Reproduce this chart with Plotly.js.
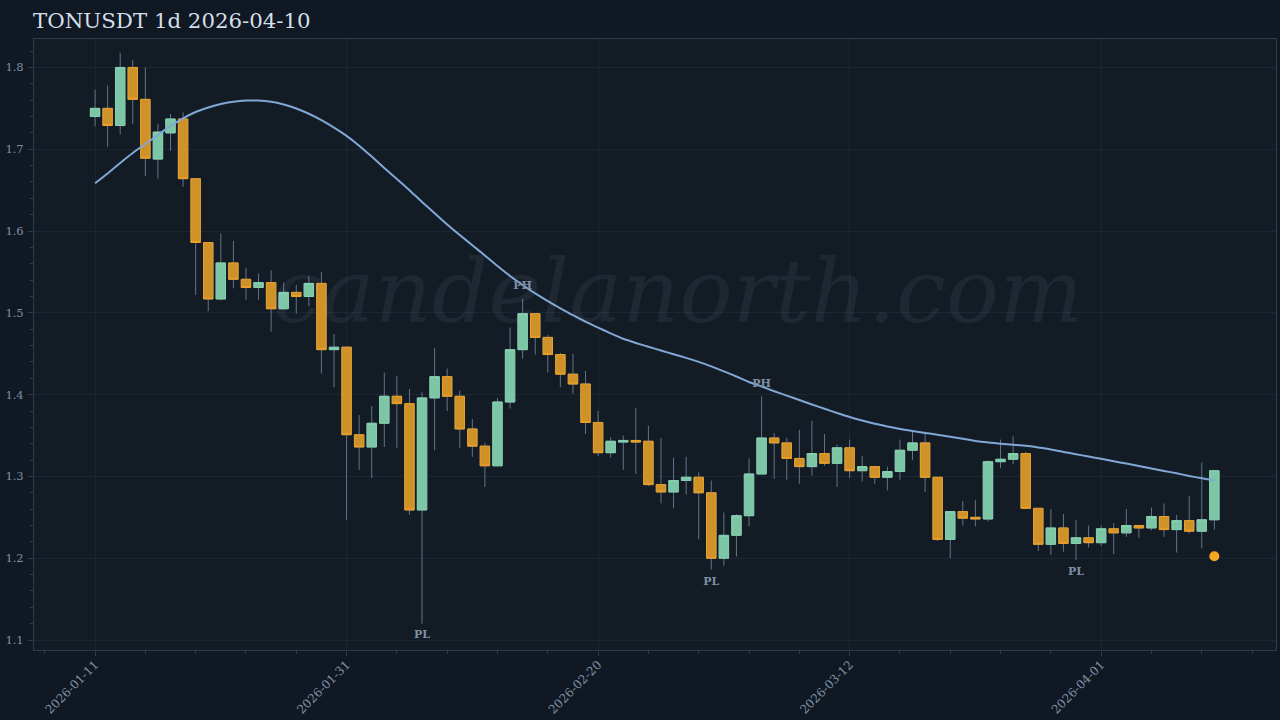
<!DOCTYPE html>
<html>
<head>
<meta charset="utf-8">
<script src="https://cdn.plot.ly/plotly-3.0.1.min.js"></script>
<style>html,body{margin:0;padding:0;background:#0f1823}#c{width:1280px;height:720px}</style>
</head>
<body>
<div id="c"></div>
<script>
var dates = ["2026-01-11","2026-01-12","2026-01-13","2026-01-14","2026-01-15","2026-01-16","2026-01-17","2026-01-18","2026-01-19","2026-01-20","2026-01-21","2026-01-22","2026-01-23","2026-01-24","2026-01-25","2026-01-26","2026-01-27","2026-01-28","2026-01-29","2026-01-30","2026-01-31",
"2026-02-01","2026-02-02","2026-02-03","2026-02-04","2026-02-05","2026-02-06","2026-02-07","2026-02-08","2026-02-09","2026-02-10","2026-02-11","2026-02-12","2026-02-13","2026-02-14","2026-02-15","2026-02-16","2026-02-17","2026-02-18","2026-02-19","2026-02-20","2026-02-21","2026-02-22","2026-02-23","2026-02-24","2026-02-25","2026-02-26","2026-02-27","2026-02-28",
"2026-03-01","2026-03-02","2026-03-03","2026-03-04","2026-03-05","2026-03-06","2026-03-07","2026-03-08","2026-03-09","2026-03-10","2026-03-11","2026-03-12","2026-03-13","2026-03-14","2026-03-15","2026-03-16","2026-03-17","2026-03-18","2026-03-19","2026-03-20","2026-03-21","2026-03-22","2026-03-23","2026-03-24","2026-03-25","2026-03-26","2026-03-27","2026-03-28","2026-03-29","2026-03-30","2026-03-31",
"2026-04-01","2026-04-02","2026-04-03","2026-04-04","2026-04-05","2026-04-06","2026-04-07","2026-04-08","2026-04-09","2026-04-10"];
var opens = [1.740,1.750,1.729,1.800,1.761,1.688,1.720,1.737,1.664,1.586,1.517,1.561,1.541,1.531,1.537,1.505,1.525,1.520,1.536,1.455,1.458,1.351,1.336,1.365,1.398,1.389,1.259,1.396,1.422,1.398,1.358,1.337,1.313,1.391,1.455,1.499,1.470,1.449,1.425,1.413,1.366,1.329,1.342,1.344,1.343,1.290,1.281,1.295,1.299,1.280,1.200,1.228,1.252,1.303,1.347,1.341,1.322,1.312,1.328,1.316,1.335,1.307,1.312,1.299,1.306,1.332,1.341,1.299,1.223,1.257,1.250,1.248,1.318,1.321,1.328,1.261,1.217,1.237,1.218,1.225,1.219,1.236,1.231,1.240,1.237,1.251,1.235,1.246,1.233,1.247];
var highs = [1.773,1.778,1.818,1.809,1.800,1.731,1.743,1.745,1.664,1.586,1.597,1.588,1.555,1.548,1.552,1.537,1.534,1.545,1.550,1.474,1.458,1.375,1.386,1.427,1.423,1.407,1.403,1.457,1.432,1.405,1.370,1.341,1.396,1.482,1.517,1.499,1.473,1.451,1.450,1.429,1.380,1.348,1.350,1.384,1.362,1.347,1.323,1.324,1.305,1.295,1.256,1.254,1.322,1.398,1.353,1.347,1.357,1.368,1.352,1.339,1.345,1.325,1.313,1.312,1.345,1.355,1.355,1.299,1.257,1.270,1.271,1.320,1.345,1.349,1.330,1.261,1.260,1.254,1.247,1.240,1.240,1.243,1.260,1.241,1.262,1.267,1.253,1.276,1.317,1.308];
var lows = [1.728,1.703,1.718,1.731,1.667,1.664,1.698,1.654,1.522,1.502,1.515,1.530,1.516,1.516,1.477,1.504,1.499,1.508,1.426,1.409,1.247,1.308,1.298,1.336,1.335,1.253,1.120,1.332,1.380,1.335,1.324,1.287,1.312,1.383,1.444,1.449,1.427,1.409,1.401,1.352,1.325,1.323,1.308,1.303,1.288,1.267,1.261,1.278,1.223,1.186,1.191,1.202,1.239,1.303,1.297,1.296,1.291,1.301,1.313,1.287,1.298,1.294,1.291,1.283,1.296,1.320,1.281,1.221,1.200,1.240,1.239,1.245,1.310,1.315,1.260,1.209,1.204,1.208,1.198,1.213,1.215,1.205,1.226,1.225,1.234,1.226,1.207,1.230,1.212,1.235];
var closes = [1.750,1.729,1.800,1.761,1.689,1.721,1.737,1.664,1.586,1.517,1.561,1.541,1.531,1.537,1.505,1.525,1.520,1.536,1.455,1.458,1.351,1.336,1.365,1.398,1.389,1.259,1.396,1.422,1.398,1.358,1.337,1.313,1.391,1.455,1.499,1.470,1.449,1.425,1.413,1.366,1.329,1.343,1.344,1.342,1.290,1.281,1.295,1.299,1.280,1.200,1.228,1.252,1.303,1.347,1.341,1.322,1.312,1.328,1.316,1.335,1.307,1.312,1.299,1.306,1.332,1.341,1.299,1.223,1.257,1.249,1.248,1.318,1.321,1.328,1.261,1.217,1.237,1.218,1.225,1.219,1.236,1.231,1.240,1.237,1.251,1.235,1.246,1.233,1.247,1.307];
var trendLine = [1.6584,1.6704,1.6833,1.6955,1.7065,1.7175,1.7285,1.7379,1.7456,1.7511,1.7554,1.7581,1.7595,1.7595,1.7581,1.7548,1.7499,1.7434,1.7355,1.7264,1.7163,1.7044,1.691,1.6771,1.6637,1.65,1.6356,1.6218,1.6081,1.5952,1.5826,1.5702,1.5573,1.5451,1.5341,1.5237,1.5143,1.5056,1.4971,1.4892,1.4819,1.4749,1.4683,1.4632,1.4586,1.454,1.4494,1.4449,1.44,1.4345,1.4284,1.4222,1.4155,1.41,1.4042,1.3988,1.3935,1.388,1.3828,1.3776,1.3727,1.3683,1.3645,1.3611,1.3581,1.3556,1.3532,1.3511,1.3485,1.3461,1.3434,1.3416,1.34,1.3387,1.3375,1.3354,1.333,1.33,1.3271,1.3244,1.3215,1.3185,1.3158,1.3128,1.3096,1.3067,1.3038,1.3006,1.2977,1.2949];
var pivotDates = ["2026-02-06","2026-02-14","2026-03-01","2026-03-05","2026-03-30"];
var pivotPrices = [1.106,1.533,1.171,1.413,1.183];
var pivotLabels = ["PL","PH","PL","PH","PL"];
var lastDate = ["2026-04-10"];
var lastPrice = [1.2024];
var yTicks = [1.1,1.2,1.3,1.4,1.5,1.6,1.7,1.8];

var serif = '"DejaVu Serif", serif';
var tickColor = '#2c3b4d', textColor = '#7f90a4', gridColor = '#1a2732';
var bodyHigh = opens.map(function(o,i){return Math.max(o,closes[i]);});
var bodyLow = opens.map(function(o,i){return Math.min(o,closes[i]);});

var wicks = {type:'candlestick', x:dates, open:opens, high:highs, low:lows, close:closes,
  increasing:{line:{color:'#62748a',width:1},fillcolor:'rgba(0,0,0,0)'},
  decreasing:{line:{color:'#62748a',width:1},fillcolor:'rgba(0,0,0,0)'},
  whiskerwidth:0, hoverinfo:'skip', showlegend:false};
var bodies = {type:'candlestick', x:dates, open:opens, high:bodyHigh, low:bodyLow, close:closes,
  increasing:{line:{color:'#85d0ae',width:1},fillcolor:'#7dc6a5'},
  decreasing:{line:{color:'#eb9f28',width:1},fillcolor:'#cf9228'},
  whiskerwidth:0, hoverinfo:'skip', showlegend:false};
var line = {type:'scatter', mode:'lines', x:dates, y:trendLine,
  line:{color:'#80a8d6',width:2,shape:'spline',smoothing:0.6}, hoverinfo:'skip', showlegend:false};
var pivots = {type:'scatter', mode:'text', x:pivotDates, y:pivotPrices, text:pivotLabels,
  textposition:'middle center', textfont:{family:serif,size:11,color:'#7d8ea3',weight:'bold'},
  hoverinfo:'skip', showlegend:false};
var last = {type:'scatter', mode:'markers', x:lastDate, y:lastPrice,
  marker:{color:'#f5a623',size:10,line:{width:0}}, hoverinfo:'skip', showlegend:false};

var layout = {
  width:1280, height:720,
  margin:{l:33.5,r:4,t:38.5,b:69.5,pad:0},
  paper_bgcolor:'#0f1823', plot_bgcolor:'#131b25',
  showlegend:false, boxgap:0.25, boxgroupgap:0, boxmode:'overlay',
  title:{text:'TONUSDT 1d 2026-04-10', x:33/1280, xanchor:'left', y:1-21/720, yanchor:'middle',
    font:{family:serif,size:21.3,color:'#d5dfe8'}},
  xaxis:{type:'date', range:['2026-01-06 03:30','2026-04-14 21:40'], rangeslider:{visible:false},
    tick0:'2026-01-11', dtick:1728000000, tickformat:'%Y-%m-%d', tickangle:-45,
    ticks:'outside', ticklen:5, tickwidth:1, tickcolor:tickColor, ticklabelstandoff:-3,
    tickfont:{family:serif,size:12,color:textColor},
    showgrid:true, gridcolor:gridColor, gridwidth:1, zeroline:false,
    showline:true, linecolor:tickColor, linewidth:1, mirror:true,
    minor:{tick0:'2026-01-11', dtick:345600000, ticks:'outside', ticklen:3, tickcolor:tickColor, showgrid:false}},
  yaxis:{range:[1.0878,1.8348], tickmode:'array', tickvals:yTicks, ticktext:yTicks.map(function(v){return v.toFixed(1);}),
    ticks:'outside', ticklen:5, tickwidth:1, tickcolor:tickColor, ticklabelstandoff:2,
    tickfont:{family:serif,size:11.5,color:textColor},
    showgrid:true, gridcolor:gridColor, gridwidth:1, zeroline:false,
    showline:true, linecolor:tickColor, linewidth:1, mirror:true,
    minor:{tick0:1.0, dtick:0.02, ticks:'outside', ticklen:3, tickcolor:tickColor, showgrid:false}},
  annotations:[{text:'candelanorth.com', xref:'paper', yref:'paper', x:(677-33)/1243, y:1-(291-38)/613,
    xanchor:'center', yanchor:'middle', showarrow:false,
    font:{family:serif,size:88.7,style:'italic',color:'rgba(190,215,235,0.065)'}}]
};
Plotly.newPlot('c',[wicks,bodies,line,last,pivots],layout,{displayModeBar:false,staticPlot:true});
</script>
</body>
</html>
